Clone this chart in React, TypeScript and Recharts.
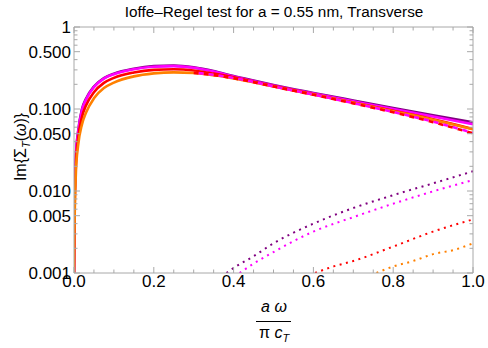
// Ioffe-Regel test chart: Im{Sigma_T(omega)} on a log axis against reduced frequency
import { LineChart, Line, XAxis, YAxis } from 'recharts'

const FONT = '"Liberation Sans", Arial, sans-serif'
const FRAME = '#a8a8a8'

// tick values
const xTicks = [0, 0.05, 0.1, 0.15, 0.2, 0.25, 0.3, 0.35, 0.4, 0.45, 0.5, 0.55, 0.6, 0.65, 0.7, 0.75, 0.8, 0.85, 0.9, 0.95, 1]
const xMajorLabels = ['0.0', '0.2', '0.4', '0.6', '0.8', '1.0']
const yTicks = [
  0.001, 0.002, 0.003, 0.004, 0.005, 0.006, 0.007, 0.008, 0.009,
  0.01, 0.02, 0.03, 0.04, 0.05, 0.06, 0.07, 0.08, 0.09,
  0.1, 0.2, 0.3, 0.4, 0.5, 0.6, 0.7, 0.8, 0.9, 1,
]
const yLabels: Record<string, string> = {
  '0.001': '0.001',
  '0.005': '0.005',
  '0.01': '0.010',
  '0.05': '0.050',
  '0.1': '0.100',
  '0.5': '0.500',
  '1': '1',
}

// full curves (solid)
const curveX = [0, 0.001, 0.002, 0.005, 0.01, 0.02, 0.03, 0.05, 0.075, 0.1, 0.15, 0.2, 0.25, 0.3, 0.35, 0.4, 0.45, 0.5, 0.6, 0.7, 0.8, 0.9, 1]
const purpleSolid = [0.001, 0.0052, 0.0105, 0.028, 0.052, 0.1, 0.133, 0.188, 0.238, 0.27, 0.31, 0.333, 0.338, 0.322, 0.29, 0.252, 0.222, 0.196, 0.157, 0.127, 0.103, 0.084, 0.069]
const magentaSolid = [0.001, 0.005, 0.01, 0.027, 0.05, 0.097, 0.13, 0.185, 0.235, 0.266, 0.306, 0.328, 0.333, 0.318, 0.286, 0.249, 0.219, 0.193, 0.154, 0.124, 0.1, 0.081, 0.065]
const redSolid = [0.001, 0.004, 0.008, 0.022, 0.042, 0.08, 0.11, 0.16, 0.208, 0.24, 0.279, 0.3, 0.305, 0.295, 0.27, 0.243, 0.215, 0.19, 0.151, 0.12, 0.095, 0.075, 0.057]
const orangeSolid = [0.001, 0.003, 0.006, 0.018, 0.035, 0.065, 0.09, 0.135, 0.18, 0.21, 0.25, 0.272, 0.28, 0.275, 0.258, 0.236, 0.212, 0.188, 0.15, 0.119, 0.094, 0.074, 0.0565]

// approximations (dashed)
const dashX = [0.3, 0.35, 0.4, 0.45, 0.5, 0.6, 0.7, 0.8, 0.9, 1]
const redDashed = [0.276, 0.259, 0.237, 0.212, 0.188, 0.149, 0.117, 0.091, 0.069, 0.0505]
const magentaDashed = [0.278, 0.261, 0.239, 0.214, 0.189, 0.15, 0.118, 0.092, 0.07, 0.0512]

// second contribution (dotted)
const purpleDotX = [0.382, 0.4, 0.45, 0.5, 0.6, 0.7, 0.8, 0.9, 1]
const purpleDotted = [0.001, 0.00115, 0.0016, 0.0023, 0.004, 0.0062, 0.0089, 0.0124, 0.0174]
const magentaDotX = [0.415, 0.45, 0.5, 0.6, 0.7, 0.8, 0.9, 1]
const magentaDotted = [0.001, 0.0013, 0.0018, 0.0032, 0.0048, 0.007, 0.0099, 0.0136]
const redDotX = [0.604, 0.65, 0.7, 0.8, 0.9, 1]
const redDotted = [0.001, 0.0012, 0.0014, 0.0021, 0.0032, 0.0045]
const orangeDotX = [0.758, 0.8, 0.85, 0.9, 0.95, 1]
const orangeDotted = [0.001, 0.0012, 0.0014, 0.0017, 0.0019, 0.0023]

const toPoints = (xs: number[], ys: number[]) => xs.map((x, i) => ({ x, y: ys[i] }))

const isXMajor = (v: number) => Math.abs(v * 5 - Math.round(v * 5)) < 1e-6

// ticks drawn inward from the frame, Mathematica style
const makeTick = (side: 'left' | 'right' | 'top' | 'bottom') => (props: any) => {
  const { x, y, payload } = props
  const v = payload.value as number
  if (side === 'left' || side === 'right') {
    const label = yLabels[String(v)]
    const len = label ? 6 : 3.5
    const dir = side === 'left' ? 1 : -1
    return (
      <g>
        <line x1={x} x2={x + dir * len} y1={y} y2={y} stroke={FRAME} strokeWidth={1} />
        {side === 'left' && label && (
          <text x={x - 3} y={y} dy="0.36em" textAnchor="end" fontSize={17} fontFamily={FONT} fill="#000">
            {label}
          </text>
        )}
      </g>
    )
  }
  const major = isXMajor(v)
  const len = major ? 6 : 3.5
  const dir = side === 'bottom' ? -1 : 1
  return (
    <g>
      <line x1={x} x2={x} y1={y} y2={y + dir * len} stroke={FRAME} strokeWidth={1} />
      {side === 'bottom' && major && (
        <text x={x} y={y + 14} textAnchor="middle" fontSize={17} fontFamily={FONT} fill="#000">
          {xMajorLabels[Math.round(v * 5)]}
        </text>
      )}
    </g>
  )
}

const solid = [
  { key: 'purple', xs: curveX, ys: purpleSolid, color: '#800080' },
  { key: 'magenta', xs: curveX, ys: magentaSolid, color: '#ff00ff' },
  { key: 'red', xs: curveX, ys: redSolid, color: '#ff0000' },
  { key: 'orange', xs: curveX, ys: orangeSolid, color: '#ff8000' },
]
const dashed = [
  { key: 'redDash', xs: dashX, ys: redDashed, color: '#ff0000' },
  { key: 'magentaDash', xs: dashX, ys: magentaDashed, color: '#ff00ff' },
]
const dotted = [
  { key: 'purpleDot', xs: purpleDotX, ys: purpleDotted, color: '#800080' },
  { key: 'magentaDot', xs: magentaDotX, ys: magentaDotted, color: '#ff00ff' },
  { key: 'redDot', xs: redDotX, ys: redDotted, color: '#ff0000' },
  { key: 'orangeDot', xs: orangeDotX, ys: orangeDotted, color: '#ff8000' },
]

export default function App() {
  return (
    <div style={{ position: 'absolute', left: 0, top: 0, width: 488, height: 348, background: '#fff' }}>
      <LineChart width={488} height={348} margin={{ top: 26, right: 14, bottom: 45, left: 8 }}>
        <XAxis
          xAxisId="b"
          dataKey="x"
          type="number"
          domain={[0, 1]}
          ticks={xTicks}
          interval={0}
          height={30}
          tickSize={0}
          tickMargin={0}
          stroke={FRAME}
          tick={makeTick('bottom')}
          allowDataOverflow
        />
        <XAxis
          xAxisId="t"
          orientation="top"
          dataKey="x"
          type="number"
          domain={[0, 1]}
          ticks={xTicks}
          interval={0}
          height={1}
          tickSize={0}
          tickMargin={0}
          stroke={FRAME}
          tick={makeTick('top')}
          allowDataOverflow
        />
        <YAxis
          yAxisId="l"
          dataKey="y"
          type="number"
          scale="log"
          domain={[0.001, 1]}
          ticks={yTicks}
          interval={0}
          width={66}
          tickSize={0}
          tickMargin={0}
          stroke={FRAME}
          tick={makeTick('left')}
          allowDataOverflow
        />
        <YAxis
          yAxisId="r"
          orientation="right"
          dataKey="y"
          type="number"
          scale="log"
          domain={[0.001, 1]}
          ticks={yTicks}
          interval={0}
          width={1}
          tickSize={0}
          tickMargin={0}
          stroke={FRAME}
          tick={makeTick('right')}
          allowDataOverflow
        />
        {dotted.map((s) => (
          <Line
            key={s.key}
            xAxisId="b"
            yAxisId="l"
            data={toPoints(s.xs, s.ys)}
            dataKey="y"
            type="monotone"
            stroke={s.color}
            strokeWidth={2}
            strokeDasharray="2 4.5"
            dot={false}
            isAnimationActive={false}
          />
        ))}
        {solid.map((s) => (
          <Line
            key={s.key}
            xAxisId="b"
            yAxisId="l"
            data={toPoints(s.xs, s.ys)}
            dataKey="y"
            type="monotone"
            stroke={s.color}
            strokeWidth={2.6}
            dot={false}
            isAnimationActive={false}
          />
        ))}
        {dashed.map((s, i) => (
          <Line
            key={s.key}
            xAxisId="b"
            yAxisId="l"
            data={toPoints(s.xs, s.ys)}
            dataKey="y"
            type="monotone"
            stroke={s.color}
            strokeWidth={2.6}
            strokeDasharray="5 5"
            strokeDashoffset={i * 5}
            dot={false}
            isAnimationActive={false}
          />
        ))}
      </LineChart>
      <svg
        width={488}
        height={348}
        style={{ position: 'absolute', left: 0, top: 0, pointerEvents: 'none' }}
        fontFamily={FONT}
      >
        <text x={274} y={17} textAnchor="middle" fontSize={15.3} fill="#000">
          Ioffe–Regel test for a = 0.55 nm, Transverse
        </text>
        <text transform="translate(26,147) rotate(-90)" textAnchor="middle" fontSize={16} fill="#000">
          Im{'{'}Σ
          <tspan fontStyle="italic" fontSize={11} dy={4}>T</tspan>
          <tspan dy={-4}>(</tspan>
          <tspan fontStyle="italic">ω</tspan>){'}'}
        </text>
        <text x={274} y={312} textAnchor="middle" fontSize={16} fontStyle="italic" fill="#000">
          a ω
        </text>
        <line x1={256} x2={291} y1={321.5} y2={321.5} stroke="#000" strokeWidth={1} />
        <text x={274} y={338} textAnchor="middle" fontSize={16} fill="#000">
          π <tspan fontStyle="italic">c</tspan>
          <tspan fontStyle="italic" fontSize={11} dy={4}>T</tspan>
        </text>
      </svg>
    </div>
  )
}
